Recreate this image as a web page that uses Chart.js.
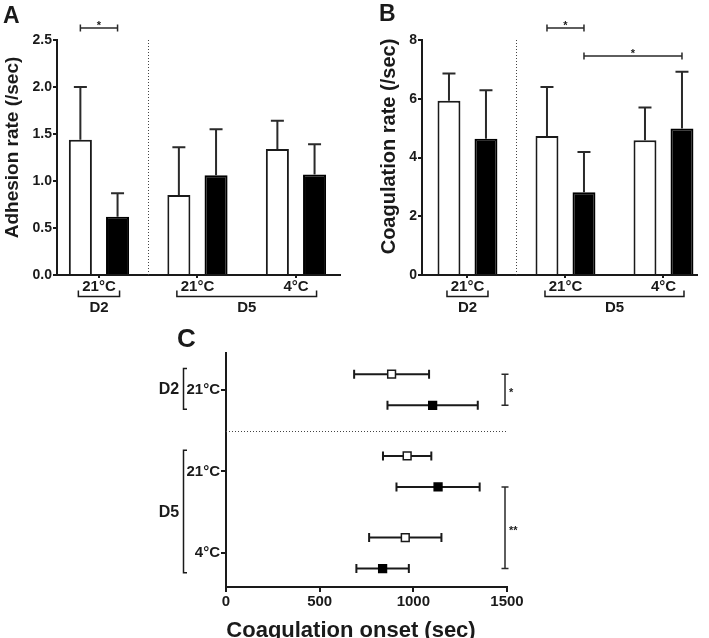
<!DOCTYPE html>
<html>
<head>
<meta charset="utf-8">
<script src="https://cdn.jsdelivr.net/npm/chart.js@4.4.1/dist/chart.umd.min.js"></script>
<style>
  body { margin: 0; background: #fff; }
  canvas { position: absolute; }
</style>
</head>
<body>
<canvas id="adhesionChart" width="354" height="330" style="left:0;top:0"></canvas>
<canvas id="coagRateChart" width="355" height="330" style="left:354px;top:0"></canvas>
<canvas id="onsetChart" width="400" height="318" style="left:140px;top:320px"></canvas>
<script>
const groupNames = ["D2", "D5"];
const groupOf = [0, 1, 1];
const tempLabels = ["21°C", "21°C", "4°C"];

// panel A - adhesion rate (/sec), mean and SD
const adhesionOpen = [1.44, 0.85, 1.34];
const adhesionOpenSd = [0.56, 0.51, 0.30];
const adhesionFilled = [0.62, 1.06, 1.07];
const adhesionFilledSd = [0.25, 0.49, 0.32];

// panel B - coagulation rate (/sec)
const coagOpen = [5.93, 4.73, 4.59];
const coagOpenSd = [0.93, 1.67, 1.11];
const coagFilled = [4.64, 2.82, 4.99];
const coagFilledSd = [1.65, 1.37, 1.93];

// panel C - coagulation onset (sec)
const onsetOpen = [884, 967, 957];
const onsetOpenSd = [200, 129, 193];
const onsetFilled = [1103, 1132, 836];
const onsetFilledSd = [241, 222, 140];

const ink = "#1a1a1a";
const family = '"Liberation Sans", Arial, Helvetica, sans-serif';
Chart.defaults.font.family = family;
Chart.defaults.font.weight = "bold";
Chart.defaults.color = ink;

const barErrors = {
  id: "barErrors",
  afterDatasetsDraw(chart) {
    const ctx = chart.ctx;
    const y = chart.scales.y;
    chart.data.datasets.forEach((ds, i) => {
      chart.getDatasetMeta(i).data.forEach((bar, j) => {
        const top = y.getPixelForValue(ds.data[j].y + ds.sd[j]);
        ctx.save();
        ctx.strokeStyle = "#2a2a2a";
        ctx.lineWidth = 2;
        ctx.beginPath();
        ctx.moveTo(bar.x, bar.y);
        ctx.lineTo(bar.x, top);
        ctx.moveTo(bar.x - 6.5, top);
        ctx.lineTo(bar.x + 6.5, top);
        ctx.stroke();
        ctx.restore();
      });
    });
  }
};

function barDecor(cfg) {
  return {
    id: "barDecor",
    afterDraw(chart) {
      const { ctx, chartArea: area, scales: { x } } = chart;
      const open = chart.getDatasetMeta(0).data;
      const filled = chart.getDatasetMeta(1).data;
      ctx.save();

      // dotted divider D2 | D5
      const xd = Math.round(x.getPixelForValue(0.5)) + 0.5;
      ctx.strokeStyle = "#444";
      ctx.lineWidth = 1;
      ctx.setLineDash([1, 2]);
      ctx.beginPath();
      ctx.moveTo(xd, area.top);
      ctx.lineTo(xd, area.bottom);
      ctx.stroke();
      ctx.setLineDash([]);

      // group brackets under the tick labels
      ctx.strokeStyle = ink;
      ctx.fillStyle = ink;
      ctx.lineWidth = 1.5;
      groupNames.forEach((g, gi) => {
        const idx = groupOf.map((v, i) => (v === gi ? i : -1)).filter(i => i >= 0);
        const x0 = open[idx[0]].x - 2;
        const x1 = filled[idx[idx.length - 1]].x + 2;
        const yb = area.bottom + 21.5;
        ctx.beginPath();
        ctx.moveTo(x0, yb - 6);
        ctx.lineTo(x0, yb);
        ctx.lineTo(x1, yb);
        ctx.lineTo(x1, yb - 6);
        ctx.stroke();
        ctx.font = "bold 15px " + family;
        ctx.textAlign = "center";
        ctx.textBaseline = "middle";
        ctx.fillText(g, (x0 + x1) / 2, area.bottom + 33);
      });

      // significance bars
      cfg.sig.forEach(s => {
        const xa = chart.getDatasetMeta(s.a[0]).data[s.a[1]].x;
        const xb = chart.getDatasetMeta(s.b[0]).data[s.b[1]].x;
        ctx.strokeStyle = "#2a2a2a";
        ctx.lineWidth = 1.5;
        ctx.beginPath();
        ctx.moveTo(xa, s.y);
        ctx.lineTo(xb, s.y);
        ctx.moveTo(xa, s.y - 3.5);
        ctx.lineTo(xa, s.y + 3.5);
        ctx.moveTo(xb, s.y - 3.5);
        ctx.lineTo(xb, s.y + 3.5);
        ctx.stroke();
        ctx.font = "bold 11px " + family;
        ctx.textAlign = "center";
        ctx.textBaseline = "alphabetic";
        ctx.fillText(s.label, (xa + xb) / 2, s.y + 1);
      });

      // y title
      ctx.save();
      ctx.translate(cfg.titleX, cfg.titleY);
      ctx.rotate(-Math.PI / 2);
      ctx.font = "bold " + cfg.titleSize + "px " + family;
      ctx.textAlign = "center";
      ctx.textBaseline = "middle";
      ctx.fillText(cfg.title, 0, 0);
      ctx.restore();

      // panel letter
      ctx.font = "bold 23px " + family;
      ctx.textAlign = "left";
      ctx.textBaseline = "alphabetic";
      ctx.fillText(cfg.letter, cfg.letterX, cfg.letterY);
      ctx.restore();
    }
  };
}

function rateChart(canvasId, open, openSd, filled, filledSd, cfg) {
  return new Chart(document.getElementById(canvasId), {
    type: "bar",
    data: {
      datasets: [
        {
          label: "open",
          data: open.map((v, i) => ({ x: i, y: v })),
          sd: openSd,
          backgroundColor: "#fff",
          borderColor: ink,
          borderWidth: 2,
          categoryPercentage: 0.755,
          barPercentage: 0.62
        },
        {
          label: "filled",
          data: filled.map((v, i) => ({ x: i, y: v })),
          sd: filledSd,
          backgroundColor: "#000",
          borderColor: "#000",
          borderWidth: 2,
          categoryPercentage: 0.755,
          barPercentage: 0.62
        }
      ]
    },
    options: {
      responsive: false,
      animation: false,
      layout: { padding: { top: 40, right: cfg.padRight, left: 0, bottom: 0 } },
      plugins: { legend: { display: false }, tooltip: { enabled: false } },
      scales: {
        x: {
          type: "linear",
          min: cfg.xMin,
          max: cfg.xMax,
          offset: false,
          afterBuildTicks: s => { s.ticks = tempLabels.map((t, i) => ({ value: i })); },
          afterFit: s => { s.height = 55; },
          grid: { offset: false, drawOnChartArea: false, tickLength: 3, lineWidth: 2, color: ink },
          border: { color: ink, width: 2 },
          ticks: {
            padding: 0,
            maxRotation: 0,
            autoSkip: false,
            font: { size: 15, weight: "bold" },
            color: ink,
            callback: v => tempLabels[v]
          }
        },
        y: {
          min: 0,
          max: cfg.yMax,
          afterFit: s => { s.width = cfg.axisLeft; },
          grid: { drawOnChartArea: false, tickLength: 4, lineWidth: 2, color: ink },
          border: { color: ink, width: 2 },
          ticks: {
            stepSize: cfg.step,
            padding: 1,
            font: { size: 14, weight: "bold" },
            color: ink,
            callback: cfg.fmt
          }
        }
      }
    },
    plugins: [barErrors, barDecor(cfg)]
  });
}

rateChart("adhesionChart", adhesionOpen, adhesionOpenSd, adhesionFilled, adhesionFilledSd, {
  xMin: -0.426, xMax: 2.447, padRight: 14, axisLeft: 57,
  yMax: 2.5, step: 0.5, fmt: v => v.toFixed(1),
  title: "Adhesion rate (/sec)", titleSize: 19, titleX: 12.5, titleY: 147.5,
  letter: "A", letterX: 3, letterY: 23,
  sig: [{ a: [0, 0], b: [1, 0], y: 28, label: "*" }]
});

rateChart("coagRateChart", coagOpen, coagOpenSd, coagFilled, coagFilledSd, {
  xMin: -0.464, xMax: 2.342, padRight: 12, axisLeft: 68,
  yMax: 8, step: 2, fmt: v => String(v),
  title: "Coagulation rate (/sec)", titleSize: 20, titleX: 35, titleY: 146.5,
  letter: "B", letterX: 25, letterY: 21,
  sig: [
    { a: [0, 1], b: [1, 1], y: 28, label: "*" },
    { a: [1, 1], b: [1, 2], y: 56, label: "*" }
  ]
});

// panel C
const dodge = 0.19;

const onsetErrors = {
  id: "onsetErrors",
  beforeDatasetsDraw(chart) {
    const ctx = chart.ctx;
    const x = chart.scales.x;
    chart.data.datasets.forEach((ds, i) => {
      chart.getDatasetMeta(i).data.forEach((pt, j) => {
        const lo = x.getPixelForValue(ds.data[j].x - ds.sd[j]);
        const hi = x.getPixelForValue(ds.data[j].x + ds.sd[j]);
        ctx.save();
        ctx.strokeStyle = ink;
        ctx.lineWidth = 2;
        ctx.beginPath();
        ctx.moveTo(lo, pt.y);
        ctx.lineTo(hi, pt.y);
        ctx.moveTo(lo, pt.y - 4.5);
        ctx.lineTo(lo, pt.y + 4.5);
        ctx.moveTo(hi, pt.y - 4.5);
        ctx.lineTo(hi, pt.y + 4.5);
        ctx.stroke();
        ctx.restore();
      });
    });
  }
};

const onsetSig = [
  { a: [0, 0], b: [1, 0], label: "*" },
  { a: [1, 1], b: [1, 2], label: "**" }
];

const onsetDecor = {
  id: "onsetDecor",
  afterDraw(chart) {
    const { ctx, chartArea: area, scales: { y } } = chart;
    ctx.save();

    // dotted divider
    const yd = Math.round(y.getPixelForValue(0.5)) + 0.5;
    ctx.strokeStyle = "#444";
    ctx.lineWidth = 1;
    ctx.setLineDash([1, 2]);
    ctx.beginPath();
    ctx.moveTo(area.left, yd);
    ctx.lineTo(area.right + 1, yd);
    ctx.stroke();
    ctx.setLineDash([]);

    // group brackets on the left
    ctx.strokeStyle = ink;
    ctx.fillStyle = ink;
    ctx.lineWidth = 1.5;
    groupNames.forEach((g, gi) => {
      const idx = groupOf.map((v, i) => (v === gi ? i : -1)).filter(i => i >= 0);
      const y0 = y.getPixelForValue(idx[0] - 0.26);
      const y1 = y.getPixelForValue(idx[idx.length - 1] + 0.24);
      const xb = area.left - 42.5;
      ctx.beginPath();
      ctx.moveTo(xb + 3.5, y0);
      ctx.lineTo(xb, y0);
      ctx.lineTo(xb, y1);
      ctx.lineTo(xb + 3.5, y1);
      ctx.stroke();
      ctx.font = "bold 16px " + family;
      ctx.textAlign = "center";
      ctx.textBaseline = "middle";
      ctx.fillText(g, area.left - 57, y.getPixelForValue((idx[0] + idx[idx.length - 1]) / 2));
    });

    // significance bars
    const xs = area.right - 2;
    onsetSig.forEach(s => {
      const ya = chart.getDatasetMeta(s.a[0]).data[s.a[1]].y;
      const yb = chart.getDatasetMeta(s.b[0]).data[s.b[1]].y;
      ctx.strokeStyle = "#2a2a2a";
      ctx.lineWidth = 1.5;
      ctx.beginPath();
      ctx.moveTo(xs, ya);
      ctx.lineTo(xs, yb);
      ctx.moveTo(xs - 3.5, ya);
      ctx.lineTo(xs + 3.5, ya);
      ctx.moveTo(xs - 3.5, yb);
      ctx.lineTo(xs + 3.5, yb);
      ctx.stroke();
      ctx.font = "bold 11px " + family;
      ctx.textAlign = "left";
      ctx.textBaseline = "alphabetic";
      ctx.fillText(s.label, xs + 4, (ya + yb) / 2 + 6);
    });

    // x title
    ctx.font = "bold 22px " + family;
    ctx.textAlign = "center";
    ctx.textBaseline = "alphabetic";
    ctx.fillText("Coagulation onset (sec)", 211, 317);

    // panel letter
    ctx.font = "bold 26px " + family;
    ctx.textAlign = "left";
    ctx.fillText("C", 37, 27);
    ctx.restore();
  }
};

new Chart(document.getElementById("onsetChart"), {
  type: "scatter",
  data: {
    datasets: [
      {
        label: "open",
        data: onsetOpen.map((v, i) => ({ x: v, y: i - dodge })),
        sd: onsetOpenSd,
        pointStyle: "rect",
        pointRadius: 5.5,
        borderWidth: 1.5,
        borderColor: ink,
        backgroundColor: "#fff"
      },
      {
        label: "filled",
        data: onsetFilled.map((v, i) => ({ x: v, y: i + dodge })),
        sd: onsetFilledSd,
        pointStyle: "rect",
        pointRadius: 5.5,
        borderWidth: 1.5,
        borderColor: "#000",
        backgroundColor: "#000"
      }
    ]
  },
  options: {
    responsive: false,
    animation: false,
    layout: { padding: { top: 33, right: 33, left: 0, bottom: 0 } },
    plugins: { legend: { display: false }, tooltip: { enabled: false } },
    scales: {
      x: {
        min: 0,
        max: 1500,
        afterFit: s => { s.height = 51; },
        grid: { drawOnChartArea: false, tickLength: 5, lineWidth: 2, color: ink },
        border: { color: ink, width: 2 },
        ticks: {
          stepSize: 500,
          padding: 1,
          font: { size: 15, weight: "bold" },
          color: ink,
          callback: v => String(v)
        }
      },
      y: {
        reverse: true,
        min: -0.45,
        max: 2.415,
        afterFit: s => { s.width = 86; },
        afterBuildTicks: s => { s.ticks = tempLabels.map((t, i) => ({ value: i })); },
        grid: { drawOnChartArea: false, tickLength: 5, lineWidth: 2, color: ink },
        border: { color: ink, width: 2 },
        ticks: {
          padding: 1,
          autoSkip: false,
          font: { size: 15, weight: "bold" },
          color: ink,
          callback: v => tempLabels[v]
        }
      }
    }
  },
  plugins: [onsetErrors, onsetDecor]
});
</script>
</body>
</html>
